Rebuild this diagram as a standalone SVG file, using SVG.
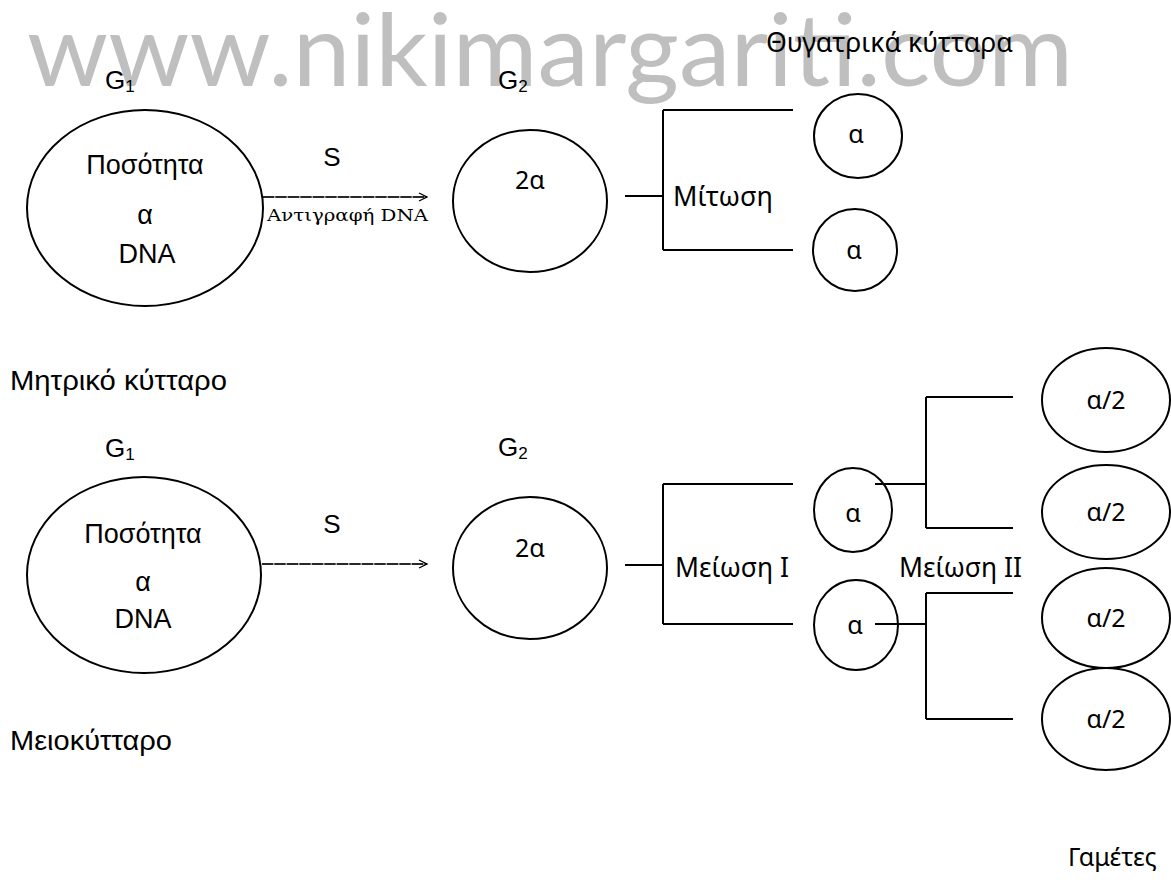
<svg xmlns="http://www.w3.org/2000/svg" width="1171" height="889" viewBox="0 0 1171 889">
<style>
.wm{font-family:Lato,"Open Sans",sans-serif;font-size:100px;fill:#bfbfbf}
.a{font-family:"Liberation Sans",Arial,sans-serif;font-size:27px;fill:#000}
.g{font-family:"Liberation Sans",Arial,sans-serif;font-size:26px;fill:#000}
.sub{font-size:17px}
.c{font-family:"Noto Sans","Open Sans",sans-serif;font-size:25px;fill:#000}
.m{font-family:"Noto Sans","Open Sans",sans-serif;font-size:27px;fill:#000}
.sf{font-family:"DejaVu Serif","Liberation Serif",serif;font-size:17px;fill:#000}
.mid{text-anchor:middle}
.sh{fill:none;stroke:#000;stroke-width:2}
.ln{fill:none;stroke:#000;stroke-width:2}
.ar{fill:none;stroke:#000;stroke-width:1.3;stroke-dasharray:11 1.5}
.ar0{fill:none;stroke:#000;stroke-width:0.7}
</style>
<defs>
<marker id="chev" viewBox="0 0 10 10" refX="9" refY="5" markerWidth="10" markerHeight="10" markerUnits="userSpaceOnUse" orient="auto">
<path d="M1,1 L9,5 L1,9" fill="none" stroke="#000" stroke-width="1.3"/>
</marker>
</defs>
<rect width="1171" height="889" fill="#fff"/>
<text class="wm" x="27" y="86" textLength="1046" lengthAdjust="spacingAndGlyphs">www.nikimargariti.com</text>

<g id="labels">
<text class="g" x="105" y="89">G<tspan class="sub" dy="3">1</tspan></text>
<text class="g" x="498" y="89">G<tspan class="sub" dy="3">2</tspan></text>
<text class="m" x="766" y="52" textLength="247" lengthAdjust="spacingAndGlyphs">Θυγατρικά κύτταρα</text>
<text class="g" x="332" y="166" text-anchor="middle">S</text>
<text class="sf" x="267" y="221" textLength="161" lengthAdjust="spacingAndGlyphs">Αντιγραφή DNA</text>
<text class="m" x="673" y="206" textLength="100" lengthAdjust="spacingAndGlyphs">Μίτωση</text>
<text class="a" x="10" y="390" textLength="217" lengthAdjust="spacingAndGlyphs">Μητρικό κύτταρο</text>
<text class="g" x="105" y="457">G<tspan class="sub" dy="3">1</tspan></text>
<text class="g" x="498" y="456">G<tspan class="sub" dy="3">2</tspan></text>
<text class="g" x="332" y="533" text-anchor="middle">S</text>
<text class="m" x="675" y="577" textLength="114" lengthAdjust="spacingAndGlyphs">Μείωση I</text>
<text class="m" x="899" y="577" textLength="123" lengthAdjust="spacingAndGlyphs">Μείωση II</text>
<text class="a" x="10" y="750" textLength="162" lengthAdjust="spacingAndGlyphs">Μειοκύτταρο</text>
<text class="m" x="1068" y="866" style="font-size:25px">Γαμέτες</text>
</g>

<g id="connectors">
<line class="ar0" x1="263" y1="197" x2="427" y2="197"/>
<line class="ar" x1="263" y1="197" x2="427" y2="197" marker-end="url(#chev)"/>
<path class="ln" d="M625,196 H663 M663,110 V250 M663,110 H793 M663,250 H793"/>
<line class="ar0" x1="262" y1="564" x2="427" y2="564"/>
<line class="ar" x1="262" y1="564" x2="427" y2="564" marker-end="url(#chev)"/>
<path class="ln" d="M625,565 H663 M663,484 V624 M663,484 H793 M663,624 H793"/>
<path class="ln" d="M875,484 H926 M926,397 V528 M926,397 H1013 M926,528 H1013"/>
<path class="ln" d="M875,624 H926 M926,593 V719 M926,593 H1013 M926,719 H1013"/>
</g>

<g id="node-g1-top">
<ellipse class="sh" cx="145" cy="208" rx="118" ry="98"/>
<text class="a mid" x="145" y="174">Ποσότητα</text>
<text class="a mid" x="145" y="224">α</text>
<text class="a mid" x="147" y="263">DNA</text>
</g>
<g id="node-g2-top">
<ellipse class="sh" cx="530" cy="201" rx="77" ry="71"/>
<text class="c mid" x="530" y="189">2α</text>
</g>
<g id="node-daughter-1">
<ellipse class="sh" cx="858" cy="136" rx="44" ry="42"/>
<text class="c mid" x="856" y="143">α</text>
</g>
<g id="node-daughter-2">
<ellipse class="sh" cx="855" cy="250" rx="42" ry="41"/>
<text class="c mid" x="854" y="259">α</text>
</g>

<g id="node-g1-bottom">
<ellipse class="sh" cx="144" cy="575" rx="117" ry="98"/>
<text class="a mid" x="143" y="543">Ποσότητα</text>
<text class="a mid" x="143" y="591">α</text>
<text class="a mid" x="143" y="628">DNA</text>
</g>
<g id="node-g2-bottom">
<ellipse class="sh" cx="530" cy="568" rx="77" ry="71"/>
<text class="c mid" x="530" y="557">2α</text>
</g>
<g id="node-meiosis1-a">
<ellipse class="sh" cx="853" cy="510" rx="39" ry="42"/>
<text class="c mid" x="853" y="522">α</text>
</g>
<g id="node-meiosis1-b">
<ellipse class="sh" cx="856" cy="625" rx="42" ry="45"/>
<text class="c mid" x="855" y="634">α</text>
</g>
<g id="node-gamete-1">
<ellipse class="sh" cx="1106" cy="400" rx="64" ry="52"/>
<text class="c mid" x="1106" y="409">α/2</text>
</g>
<g id="node-gamete-2">
<ellipse class="sh" cx="1106" cy="512" rx="64" ry="47"/>
<text class="c mid" x="1106" y="521">α/2</text>
</g>
<g id="node-gamete-3">
<ellipse class="sh" cx="1106" cy="618" rx="64" ry="50"/>
<text class="c mid" x="1106" y="627">α/2</text>
</g>
<g id="node-gamete-4">
<ellipse class="sh" cx="1106" cy="719" rx="64" ry="51"/>
<text class="c mid" x="1106" y="728">α/2</text>
</g>
</svg>
